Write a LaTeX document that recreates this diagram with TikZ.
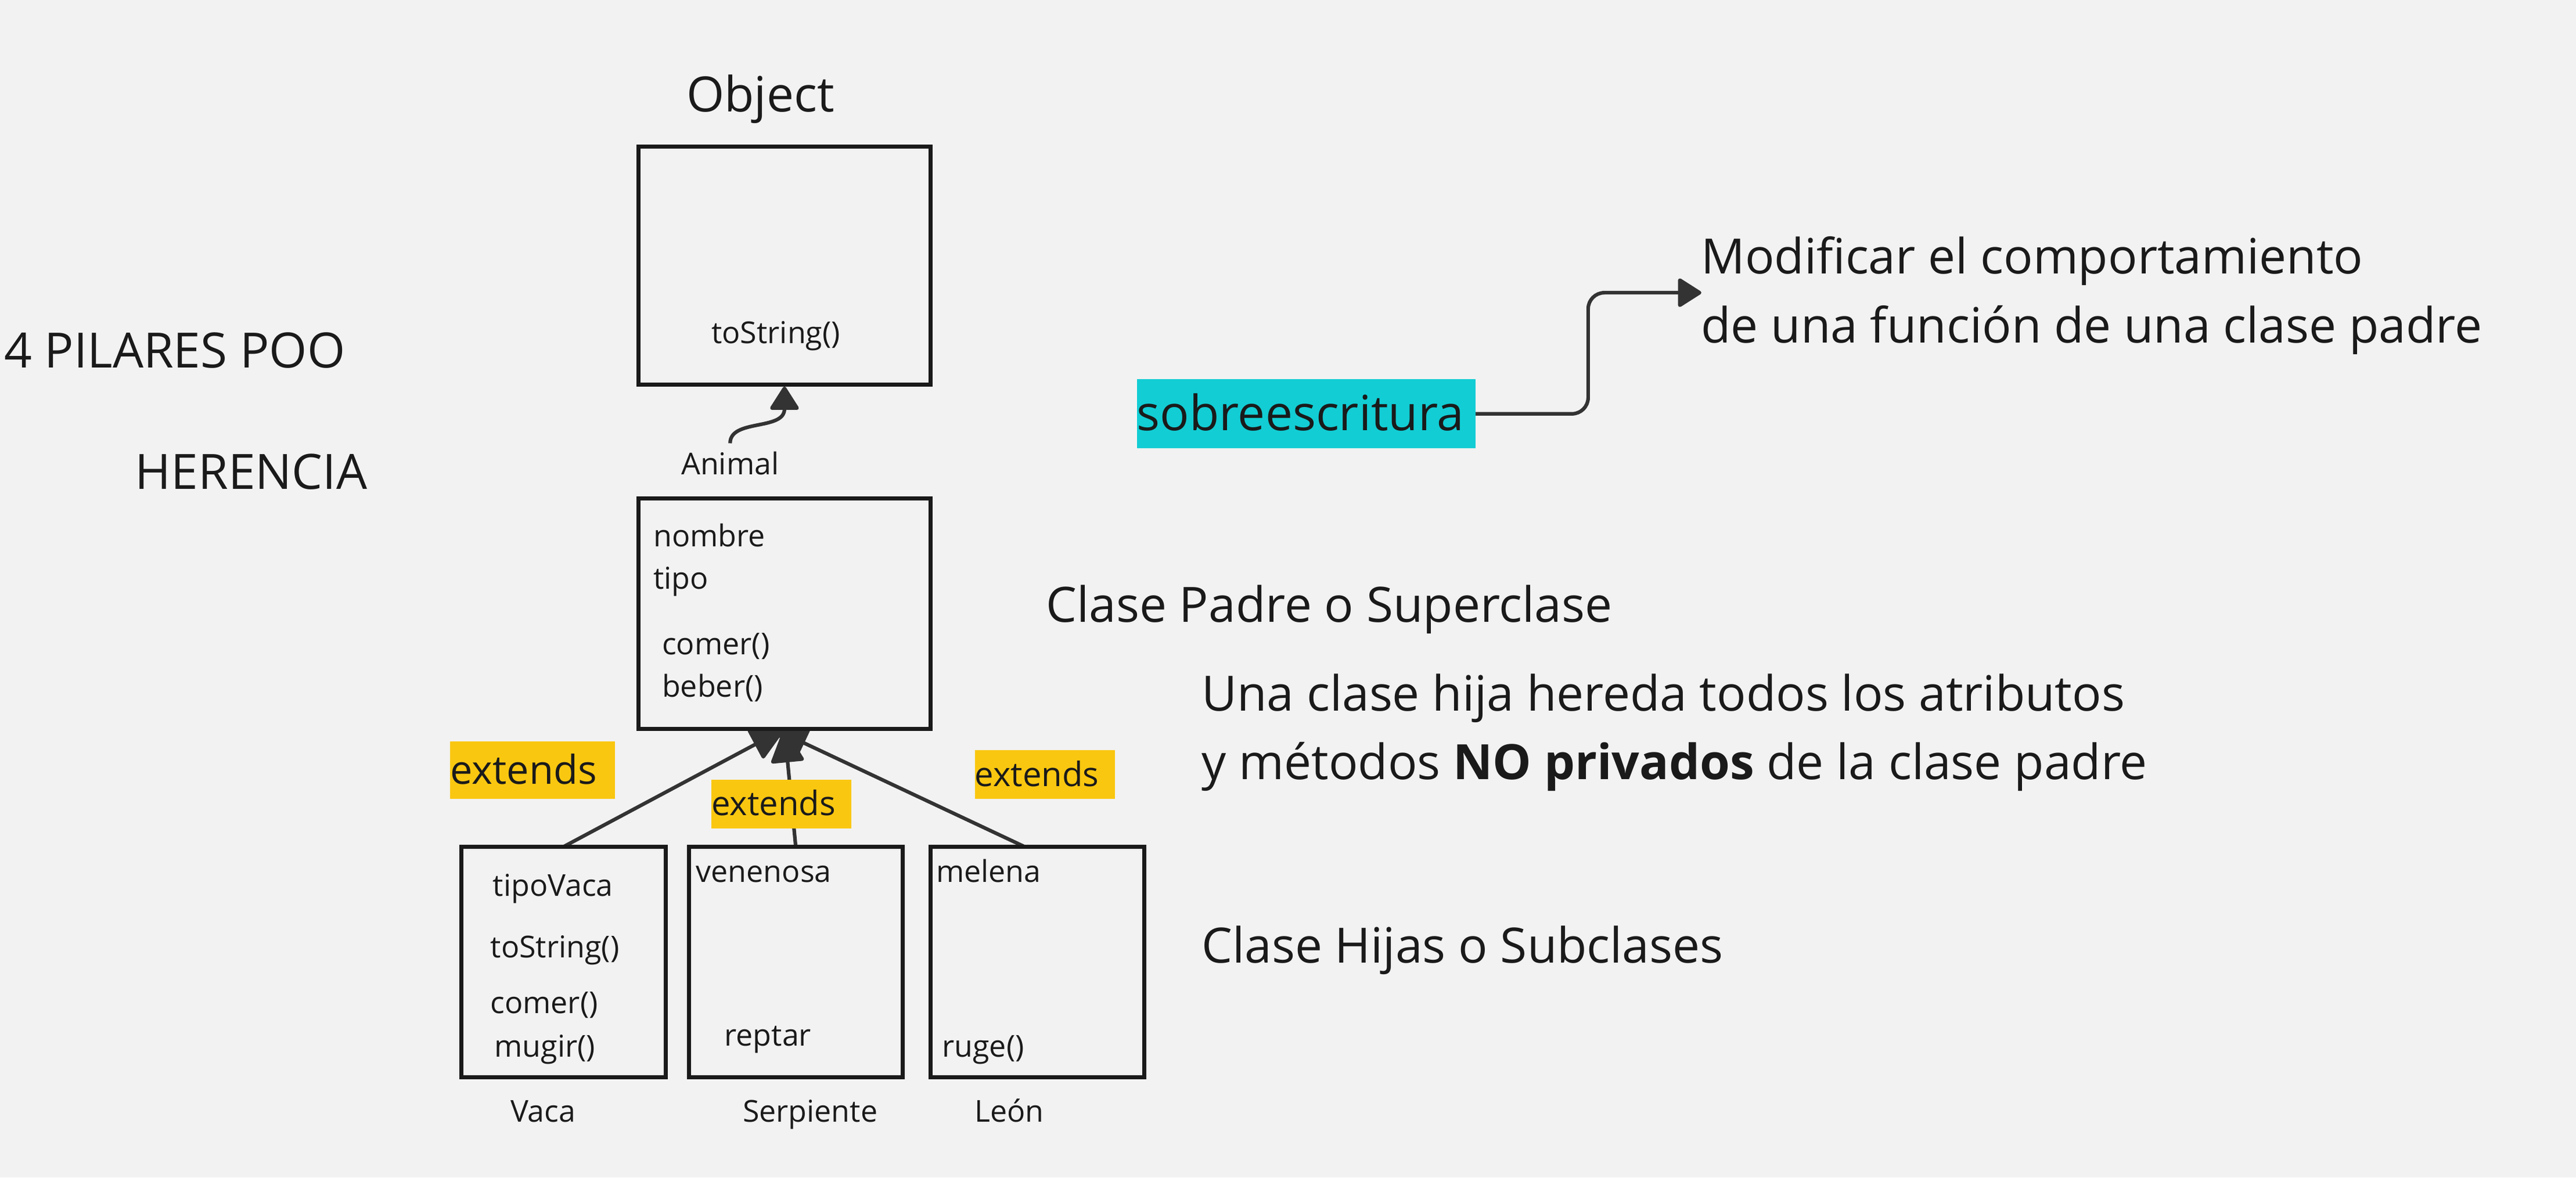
\documentclass[tikz,border=0pt]{standalone}
\usepackage{fontspec}
\setmainfont{Open Sans}
\usetikzlibrary{arrows.meta,fit,backgrounds}
\definecolor{bg}{HTML}{F2F2F2}
\definecolor{ink}{HTML}{1A1A1A}
\definecolor{wirec}{HTML}{333333}
\definecolor{hlyellow}{HTML}{FAC710}
\definecolor{hlcyan}{HTML}{12CDD4}
\begin{document}
\begin{tikzpicture}[x=0.28291mm,y=-0.28291mm,
  txt/.style={anchor=base west, inner sep=0, outer sep=0, text=ink},
  bigtxt/.style={txt, font=\fontsize{23.85pt}{28pt}\selectfont},
  smalltxt/.style={txt, font=\fontsize{14.77pt}{18pt}\selectfont},
  extA/.style={txt, font=\fontsize{19.5pt}{23pt}\selectfont},
  extB/.style={txt, font=\fontsize{16.5pt}{20pt}\selectfont},
  classbox/.style={draw=ink, line width=0.7mm, fill=bg, inner sep=0, outer sep=0},
  hlbox/.style={fill=hlyellow, inner sep=0, outer sep=0},
  wire/.style={draw=wirec, line width=0.62mm},
  bigtip/.style={-{Triangle[length=6.2mm,width=5.9mm,round]}},
  smalltip/.style={-{Triangle[length=4.3mm,width=5.3mm,round]}},
]
\useasboundingbox (0,0) rectangle (1568,716.85);

% ---------- class boxes ----------
\node[classbox, fit={(388.6,89.4) (566.4,234.1)}] (objbox) {};
\node[classbox, fit={(388.6,303.6) (566.4,443.7)}] (animal) {};
\node[classbox, fit={(281,515.4) (405.4,655.8)}] (vaca) {};
\node[classbox, fit={(419.3,515.4) (549.4,655.8)}] (serp) {};
\node[classbox, fit={(566.4,515.4) (696.5,655.8)}] (leon) {};

% ---------- titles ----------
\node[bigtxt] (objlbl) at (417.9,68) {Object};
\node[bigtxt] (pilares) at (2.5,224.1) {4 PILARES POO};
\node[bigtxt] (herencia) at (82.3,297.8) {HERENCIA};
\node[bigtxt] (padre) at (636.8,378.8) {Clase Padre o Superclase};
\node[bigtxt] (una1) at (731.5,432.8) {Una clase hija hereda todos los atributos};
\node[bigtxt] (una2) at (731.5,474.7) {y métodos \textbf{NO privados} de la clase padre};
\node[bigtxt] (hijas) at (731.5,586.3) {Clase Hijas o Subclases};
\node[bigtxt] (mod1) at (1035.5,166.7) {Modificar el comportamiento};
\node[bigtxt] (mod2) at (1035.5,208.6) {de una función de una clase padre};

% ---------- sobreescritura ----------
\node[fill=hlcyan, inner sep=0, outer sep=0, fit={(692.2,230.9) (898,273)}] (sobre) {};
\node[bigtxt] (sobretxt) at (691.9,262.2) {sobreescritura};

% ---------- class contents ----------
\node[smalltxt] (objm) at (433.1,209) {toString()};
\node[smalltxt] (animallbl) at (414.7,289.1) {Animal};
\node[smalltxt] (a1) at (397.8,332.9) {nombre};
\node[smalltxt] (a2) at (397.8,358.7) {tipo};
\node[smalltxt] (a3) at (403,398.6) {comer()};
\node[smalltxt] (a4) at (403,424.2) {beber()};
\node[smalltxt] (v1) at (300,545.6) {tipoVaca};
\node[smalltxt] (v2) at (298.6,583) {toString()};
\node[smalltxt] (v3) at (298.5,616.9) {comer()};
\node[smalltxt] (v4) at (301,643.6) {mugir()};
\node[smalltxt] (s1) at (423.7,537.1) {venenosa};
\node[smalltxt] (s2) at (441,636.9) {reptar};
\node[smalltxt] (l1) at (569.8,537.1) {melena};
\node[smalltxt] (l2) at (573.5,643.6) {ruge()};
\node[smalltxt] (vacalbl) at (310.7,683.2) {Vaca};
\node[smalltxt] (serplbl) at (452.1,683.2) {Serpiente};
\node[smalltxt] (leonlbl) at (593.2,683.2) {León};

% ---------- extends labels ----------
\node[hlbox, fit={(274.1,451.5) (374.4,486.3)}] (ext1) {};
\node[extA] (ext1t) at (274.1,477.2) {extends};
\node[hlbox, fit={(433.1,474.6) (518.2,504.3)}] (ext2) {};
\node[extB] (ext2t) at (433.1,496.3) {extends};
\node[hlbox, fit={(593.4,456.8) (678.8,486.3)}] (ext3) {};
\node[extB] (ext3t) at (593.4,478.6) {extends};

% ---------- connectors ----------
\coordinate (sbend) at (966.7,215);
\coordinate (modtip) at (1035.6,178.2);
\begin{scope}[on background layer]
  \fill[bg] (0,0) rectangle (1568,716.85);
  \draw[wire, bigtip] (vaca.north) -- (animal.south);
  \draw[wire, bigtip] (serp.north) -- (animal.south);
  \draw[wire, bigtip] ([xshift=-2.26mm]leon.north) -- ([xshift=-1.84mm]animal.south);
  \draw[wire, smalltip] ([yshift=1.5mm]animallbl.north) .. controls +(0,-15) and +(0,27) .. ([yshift=-0.35mm]objbox.south);
  \draw[wire, smalltip, rounded corners=2.8mm] (sobre.east) -| (sbend) |- (modtip);
\end{scope}
\end{tikzpicture}
\end{document}
